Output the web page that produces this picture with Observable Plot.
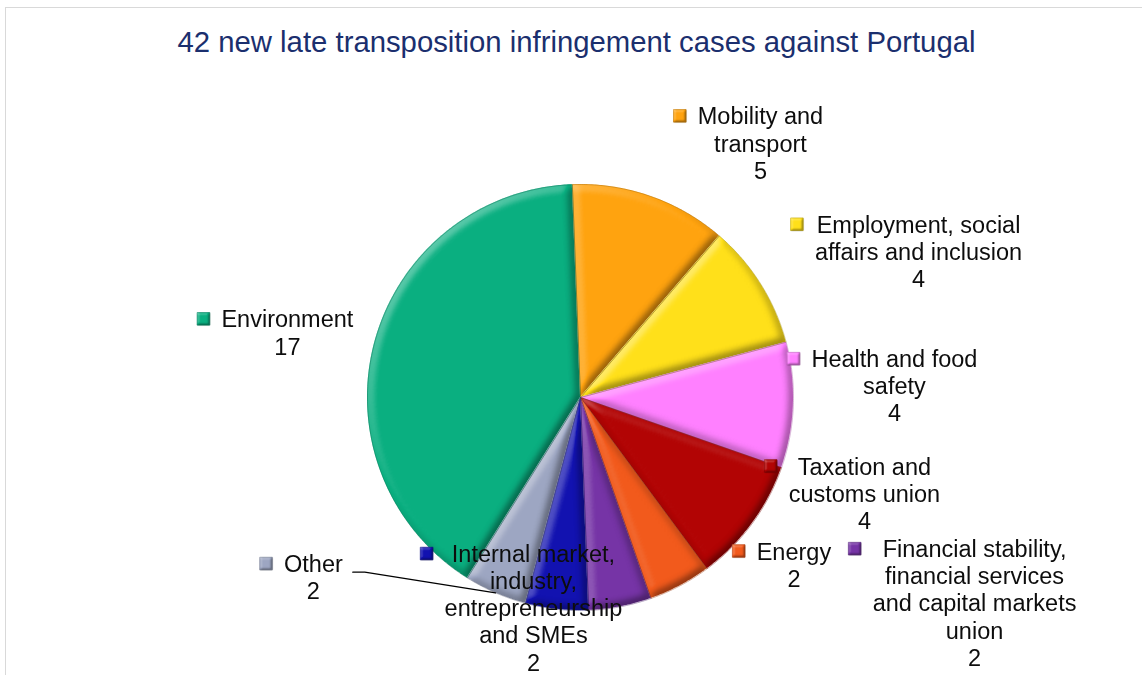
<!DOCTYPE html>
<html><head><meta charset="utf-8">
<script src="https://cdn.jsdelivr.net/npm/d3@7"></script>
<script src="https://cdn.jsdelivr.net/npm/@observablehq/plot@0.6"></script>
<style>
html,body{margin:0;padding:0;background:#fff;}
#wrap{position:relative;width:1142px;height:675px;overflow:hidden;}
#frame{position:absolute;left:4.5px;top:6.5px;width:1200px;height:700px;border-left:1.5px solid #d9d9d9;border-top:1.5px solid #d9d9d9;}
#title{position:absolute;left:0;width:1153px;top:27.3px;text-align:center;font-family:"Liberation Sans",Arial,sans-serif;font-size:29.3px;line-height:29px;color:#1b2f6e;white-space:nowrap;}
#chart{position:absolute;left:0;top:0;}
</style>
</head><body>
<div id="wrap"><div id="frame"></div><div id="chart"></div><div id="title">42 new late transposition infringement cases against Portugal</div></div>
<script>
// ---- data (clockwise from 12 o'clock) ----
const categories = ["Mobility and transport", "Employment, social affairs and inclusion", "Health and food safety", "Taxation and customs union", "Energy", "Financial stability, financial services and capital markets union", "Internal market, industry, entrepreneurship and SMEs", "Other", "Environment"];
const values = [5, 4, 4, 4, 2, 2, 2, 2, 17];
const colors = ["#FFA30F", "#FFE01A", "#FF80FF", "#B20404", "#F25A1C", "#7634A6", "#1212B0", "#9DA6C2", "#0AAF80"];
const labelLines = [
  ["Mobility and", "transport"],
  ["Employment, social", "affairs and inclusion"],
  ["Health and food", "safety"],
  ["Taxation and", "customs union"],
  ["Energy"],
  ["Financial stability,", "financial services", "and capital markets", "union"],
  ["Internal market,", "industry,", "entrepreneurship", "and SMEs"],
  ["Other"],
  ["Environment"]
];
// label block layout (centre x, first baseline y) in pie-radius units relative to the pie centre
const labelPos = [[0.845, 1.282], [1.587, 0.773], [1.474, 0.142], [1.333, -0.362], [1.002, -0.761], [1.850, -0.750], [-0.221, -0.773], [-1.254, -0.820], [-1.376, 0.329]];

// ---- layout ----
const W = 1142, H = 675, CX = 580, CY = 397, R = 213;
const FS = 23.5, LINE = 27.1;
const FONT = '"Liberation Sans", Arial, sans-serif';
const startOffset = -2.2 * Math.PI / 180;
const total = d3.sum(values);

// slices: arc points (x1,y1) closed back to the centre (x2,y2)
let acc = 0;
const sliceData = categories.map((c, i) => {
  const a0 = startOffset + acc / total * 2 * Math.PI; acc += values[i];
  const a1 = startOffset + acc / total * 2 * Math.PI;
  const n = Math.max(4, Math.ceil((a1 - a0) / (Math.PI / 360)));
  const pts = [];
  for (let k = 0; k <= n; k++) { const a = a0 + (a1 - a0) * k / n; pts.push({x: Math.sin(a), y: Math.cos(a), cx: 0, cy: 0}); }
  const outline = [{x: 0, y: 0}, ...pts.map(p => ({x: p.x, y: p.y})), {x: 0, y: 0}];
  return {cat: c, pts, outline, mid: (a0 + a1) / 2};
});

// text measure
const ctx = document.createElement("canvas").getContext("2d");
ctx.font = `${FS}px ${FONT}`;
const toU = (px, py) => [(px - CX) / R, (CY - py) / R];

const textRows = [], markers = [];
categories.forEach((c, i) => {
  const lines = [...labelLines[i], String(values[i])];
  const cxp = CX + labelPos[i][0] * R, basep = CY - labelPos[i][1] * R;
  lines.forEach((t, j) => {
    const [ux, uy] = toU(cxp, basep + j * LINE - 0.32 * FS);
    textRows.push({t, x: ux, y: uy});
  });
  const maxW = d3.max(lines, t => ctx.measureText(t).width);
  const [mx, my] = toU(cxp - maxW / 2 - 18, basep - 8.6);
  markers.push({x: mx, y: my, c: colors[i]});
});

// leader line for "Other"
const oi = categories.indexOf("Other");
const ocx = CX + labelPos[oi][0] * R, obase = CY - labelPos[oi][1] * R;
const oRight = ocx + ctx.measureText(labelLines[oi][0]).width / 2;
const leader = [toU(oRight + 10, obase), toU(oRight + 22, obase), [Math.sin(sliceData[oi].mid), Math.cos(sliceData[oi].mid)]].map(([x, y]) => ({x, y}));

const marks = [
  ...sliceData.map((s, i) => Plot.area(s.pts, {x1: "x", y1: "y", x2: "cx", y2: "cy", fill: colors[i]})),
  ...sliceData.map((s, i) => Plot.area(s.pts, {x1: "x", y1: "y", x2: "cx", y2: "cy", fill: colors[i]})),
  ...sliceData.map((s, i) => Plot.line(s.outline, {x: "x", y: "y", stroke: d3.color(colors[i]).darker(1.3).formatHex(), strokeWidth: 0.7, strokeOpacity: 0.6})),
  Plot.line(leader, {x: "x", y: "y", stroke: "#000", strokeWidth: 1.3}),
  Plot.dot(markers, {x: "x", y: "y", symbol: "square", r: 7.1, fill: d => d.c, stroke: d => d3.color(d.c).darker(0.7).formatHex(), strokeWidth: 0.7}),
  Plot.text(textRows, {x: "x", y: "y", text: "t", fontSize: FS, fill: "#0d0d0d", textAnchor: "middle", lineAnchor: "middle"})
];

const chart = Plot.plot({
  width: W, height: H, margin: 0,
  x: {domain: [(0 - CX) / R, (W - CX) / R], axis: null},
  y: {domain: [(CY - H) / R, CY / R], axis: null},
  style: {fontFamily: FONT, background: "transparent", overflow: "visible"},
  marks
});
// bevel: overlay copies of the slices get a lighting filter (highlight up-left, shade down-right)
const ns = "http://www.w3.org/2000/svg";
const defs = document.createElementNS(ns, "defs");
const bevel = (id, sd, ss, kh, ks) => `<filter id="${id}" x="-10%" y="-10%" width="120%" height="120%" color-interpolation-filters="sRGB">
  <feGaussianBlur in="SourceAlpha" stdDeviation="${sd}" result="b"/>
  <feDiffuseLighting in="b" surfaceScale="${ss}" diffuseConstant="1" lighting-color="#ffffff" result="d">
    <feDistantLight azimuth="225" elevation="45"/>
  </feDiffuseLighting>
  <feColorMatrix in="d" type="matrix" values="0 0 0 0 1  0 0 0 0 1  0 0 0 0 1  ${kh} 0 0 0 ${-kh * 0.7071}" result="hl"/>
  <feColorMatrix in="d" type="matrix" values="0 0 0 0 0  0 0 0 0 0  0 0 0 0 0  ${-ks} 0 0 0 ${ks * 0.7071}" result="sh"/>
  <feMerge result="m"><feMergeNode in="sh"/><feMergeNode in="hl"/></feMerge>
  <feComposite in="m" in2="SourceAlpha" operator="in"/>
</filter>`;
defs.innerHTML = bevel("bv", 4, 5, 1.1, 0.55) + bevel("bvs", 1.3, 3, 1.0, 0.45);
chart.insertBefore(defs, chart.firstChild);
const areas = chart.querySelectorAll('g[aria-label="area"]');
areas.forEach((g, i) => { if (i >= categories.length) g.setAttribute("filter", "url(#bv)"); });
const dotG = chart.querySelector('g[aria-label="dot"]');
if (dotG) {
  const copy = dotG.cloneNode(true);
  copy.setAttribute("filter", "url(#bvs)");
  dotG.after(copy);
}
document.getElementById("chart").appendChild(chart);
</script>
</body></html>
